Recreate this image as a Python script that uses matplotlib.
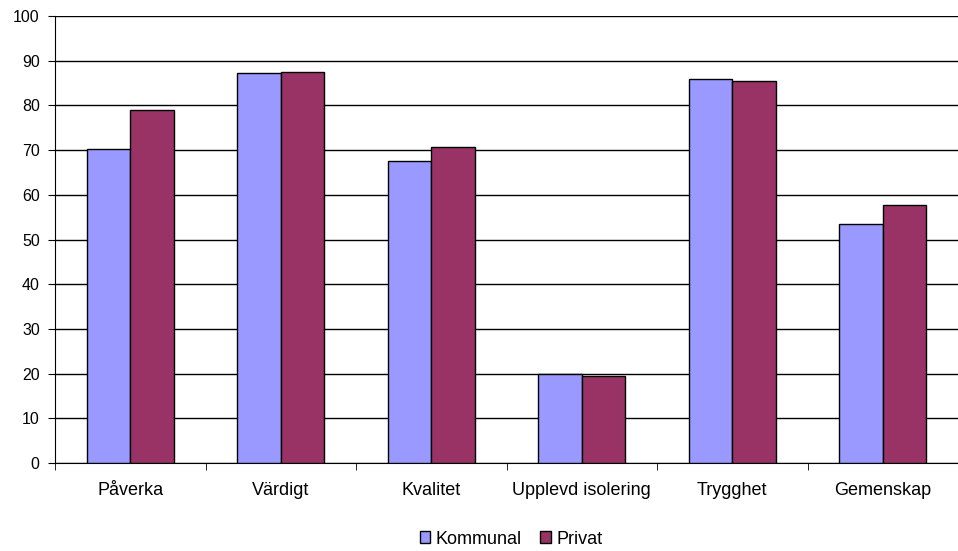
import matplotlib
matplotlib.use('Agg')
import matplotlib.pyplot as plt
import numpy as np

categories = ['Påverka', 'Värdigt', 'Kvalitet', 'Upplevd isolering', 'Trygghet', 'Gemenskap']
kommunal = [70.2, 87.2, 67.6, 19.8, 85.8, 53.5]
privat = [79.0, 87.5, 70.6, 19.5, 85.5, 57.8]

plt.rcParams['font.family'] = ['Liberation Sans', 'DejaVu Sans']
plt.rcParams['font.size'] = 11

fig = plt.figure(figsize=(9.58, 5.51), dpi=100)
ax = fig.add_axes([55 / 958, 88 / 551, 903 / 958, 447 / 551])

x = np.arange(len(categories))
w = 0.29
ax.bar(x - w / 2, kommunal, w, color='#9999FF', edgecolor='black', linewidth=1, label='Kommunal', zorder=3)
ax.bar(x + w / 2, privat, w, color='#993366', edgecolor='black', linewidth=1, label='Privat', zorder=3)

ax.set_xlim(-0.5, len(categories) - 0.5)
ax.set_ylim(0, 100)
ax.set_yticks(range(0, 101, 10))
ax.yaxis.grid(True, color='black', linewidth=1, zorder=0)
ax.set_xticks(x)
ax.set_xticklabels(categories, fontsize=13)
ax.set_xticks(np.arange(-0.5, len(categories), 1), minor=True)
ax.tick_params(axis='x', which='major', length=0, pad=14)
ax.tick_params(axis='x', which='minor', length=5, color='black')
ax.tick_params(axis='y', length=5, color='black', pad=6, labelsize=11.5)

for s in ['top', 'right']:
    ax.spines[s].set_visible(False)
ax.spines['left'].set_color('black')
ax.spines['bottom'].set_color('black')

fig.legend(loc='center', bbox_to_anchor=(511 / 958, 1 - 539 / 551), ncol=2, frameon=False,
           fontsize=13, handlelength=0.6, handleheight=0.6, handletextpad=0.3, columnspacing=1.0)

fig.savefig('out.png', dpi=100)
